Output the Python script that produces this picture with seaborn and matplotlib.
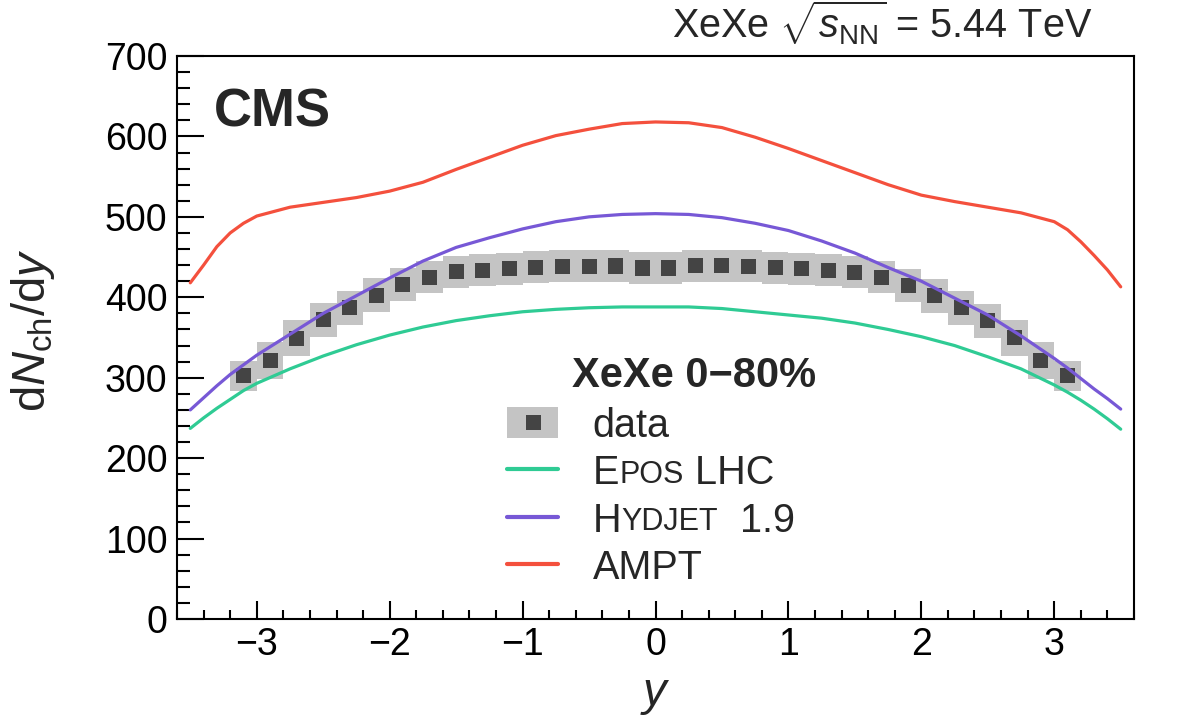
import numpy as np
import pandas as pd
import matplotlib
matplotlib.use("Agg")
import matplotlib.pyplot as plt
import seaborn as sns
from matplotlib.lines import Line2D
from matplotlib.patches import Patch
from matplotlib.legend_handler import HandlerTuple
from matplotlib.ticker import MultipleLocator

# ---------------- data ----------------
rapidity = [-3.1, -2.9, -2.7, -2.5, -2.3, -2.1, -1.9, -1.7, -1.5, -1.3, -1.1, -0.9,
            -0.7, -0.5, -0.3, -0.1, 0.1, 0.3, 0.5, 0.7, 0.9, 1.1, 1.3, 1.5,
            1.7, 1.9, 2.1, 2.3, 2.5, 2.7, 2.9, 3.1]
dndy = [302.5, 321.2, 349.0, 371.8, 387.1, 402.8, 415.3, 424.8, 431.8, 433.9, 435.5, 437.6,
        438.5, 438.5, 438.9, 436.4, 436.4, 439.3, 439.3, 438.5, 436.8, 435.5, 433.9, 431.1,
        424.8, 414.4, 402.0, 386.7, 370.9, 349.8, 321.2, 302.5]
dndy_sys = [18.8, 23.4, 22.6, 21.0, 21.0, 21.0, 20.5, 20.0, 20.0, 19.8, 19.8, 19.7,
            19.7, 19.7, 19.7, 19.7, 19.7, 19.7, 19.7, 19.7, 19.7, 19.8, 19.8, 20.0,
            20.0, 20.5, 21.0, 21.0, 21.0, 22.4, 23.4, 18.8]

model_y = [-3.5, -3.4, -3.3, -3.2, -3.1, -3.0, -2.75, -2.5, -2.25, -2.0, -1.75, -1.5,
           -1.25, -1.0, -0.75, -0.5, -0.25, 0.0, 0.25, 0.5, 0.75, 1.0, 1.25, 1.5,
           1.75, 2.0, 2.25, 2.5, 2.75, 3.0, 3.1, 3.2, 3.3, 3.4, 3.5]
epos = [237, 250, 262, 273, 284, 293, 311, 327, 341, 353, 363, 371,
        377, 382, 385, 387, 388, 388, 388, 386, 382, 378, 374, 368,
        360, 351, 340, 326, 311, 291, 282, 272, 261, 249, 236]
hydjet = [260, 275, 290, 304, 316, 328, 354, 380, 402, 424, 445, 462,
          474, 485, 494, 500, 503, 504, 503, 499, 492, 483, 470, 455,
          437, 420, 399, 378, 352, 324, 312, 299, 286, 274, 261]
ampt = [418, 440, 463, 480, 492, 501, 512, 518, 524, 532, 543, 559,
        574, 589, 601, 609, 616, 618, 617, 611, 599, 585, 570, 555,
        540, 527, 519, 512, 505, 494, 484, 469, 452, 434, 413]

model_names = ["EPOS LHC", "HYDJET 1.9", "AMPT"]
model_colors = ["#2fcb94", "#7758d6", "#f4503d"]
x_ticks = [-3, -2, -1, 0, 1, 2, 3]
y_ticks = [0, 100, 200, 300, 400, 500, 600, 700]

# ---------------- style ----------------
sns.set_theme(style="ticks")
plt.rcParams.update({
    "mathtext.fontset": "custom",
    "mathtext.rm": "Liberation Sans",
    "mathtext.it": "Liberation Sans:italic",
    "mathtext.bf": "Liberation Sans:bold",
    "mathtext.sf": "Liberation Sans",
    "axes.unicode_minus": True,
})
plt.rcParams["font.family"] = ["Liberation Sans", "DejaVu Sans"]

fig = plt.figure(figsize=(11.82, 7.21), dpi=100)
fig.patch.set_facecolor("white")
ax = fig.add_axes([0.14975, 0.14147, 0.80964, 0.78086])
ax.set_facecolor("white")

# systematic boxes
lo = np.array(dndy) - np.array(dndy_sys)
ax.bar(rapidity, 2 * np.array(dndy_sys), bottom=lo, width=0.2,
       color="#c4c4c4", linewidth=0, zorder=1)

# data points
df_data = pd.DataFrame({"y": rapidity, "dndy": dndy})
sns.scatterplot(data=df_data, x="y", y="dndy", marker="s", s=117,
                color="#444444", edgecolor="none", linewidth=0, ax=ax, zorder=2)

# models
rows = []
for name, vals in zip(model_names, [epos, hydjet, ampt]):
    for xv, v in zip(model_y, vals):
        rows.append({"y": xv, "dndy": v, "model": name})
df_models = pd.DataFrame(rows)
sns.lineplot(data=df_models, x="y", y="dndy", hue="model",
             palette=dict(zip(model_names, model_colors)), linewidth=2.3,
             estimator=None, sort=False, legend=False, ax=ax, zorder=3)

# axes
ax.set_xlim(-3.6, 3.6)
ax.set_ylim(0, 700)
ax.set_xticks(x_ticks)
ax.set_yticks(y_ticks)
ax.xaxis.set_minor_locator(MultipleLocator(0.2))
ax.yaxis.set_minor_locator(MultipleLocator(20))
ax.set_xlabel("")
ax.set_ylabel("")
ax.tick_params(axis="both", which="both", direction="in", top=False, right=False,
               width=1.5, color="black", labelsize=27, labelcolor="black")
ax.tick_params(axis="x", which="major", length=13, pad=6)
ax.tick_params(axis="x", which="minor", length=6.5)
ax.tick_params(axis="y", which="major", length=19.4, pad=7)
ax.tick_params(axis="y", which="minor", length=9.4)
for sp in ax.spines.values():
    sp.set_visible(True)
    sp.set_linewidth(1.5)
    sp.set_color("black")

# legend
LFS = 28.5
SFS = 22
data_handle = (Patch(facecolor="#c4c4c4", edgecolor="none"),
               Line2D([], [], marker="s", ls="none", ms=10.8, color="#444444",
                      markeredgewidth=0))
line_handles = [Line2D([], [], color=c, lw=3) for c in model_colors]
leg = ax.legend(handles=[data_handle] + line_handles,
                labels=["data", "E", "H", "AMPT"],
                handler_map={tuple: HandlerTuple(ndivide=1, pad=0)},
                loc="center left", bbox_to_anchor=(0.3448, 0.2170),
                frameon=False, fontsize=LFS, handlelength=1.29, handleheight=0.83,
                handletextpad=0.88, labelspacing=0.24, borderpad=0, borderaxespad=0)
texts = leg.get_texts()
a1 = ax.annotate("POS", xy=(1, 0), xycoords=texts[1], xytext=(0, 1.5),
                 textcoords="offset points", fontsize=SFS, va="bottom", ha="left",
                 annotation_clip=False, zorder=10)
ax.annotate(" LHC", xy=(1, 0), xycoords=a1, xytext=(0, -1.5),
            textcoords="offset points", fontsize=LFS, va="bottom", ha="left",
            annotation_clip=False, zorder=11)
a2 = ax.annotate("YDJET", xy=(1, 0), xycoords=texts[2], xytext=(0, 1.5),
                 textcoords="offset points", fontsize=SFS, va="bottom", ha="left",
                 annotation_clip=False, zorder=10)
ax.annotate("  1.9", xy=(1, 0), xycoords=a2, xytext=(0, -1.5),
            textcoords="offset points", fontsize=LFS, va="bottom", ha="left",
            annotation_clip=False, zorder=11)

ax.text(0.4124, 0.4126, "XeXe 0\u221280%", transform=ax.transAxes, fontsize=30,
        fontweight="bold", ha="left", va="baseline")
ax.text(0.0387, 0.8739, "CMS", transform=ax.transAxes, fontsize=38,
        fontweight="bold", ha="left", va="baseline")

fig.text(0.9239, 1 - 38 / 721, r"XeXe $\sqrt{s_{\mathrm{NN}}}$ = 5.44 TeV",
         ha="right", va="baseline", fontsize=28.5)
fig.text(33 / 1182, 1 - 330 / 721, r"d$N_{\mathrm{ch}}$/d$y$", rotation=90,
         ha="center", va="center", fontsize=34)
fig.text(655 / 1182, 1 - 705 / 721, r"$y$", ha="center", va="baseline", fontsize=34)

fig.savefig("out.png", dpi=100, facecolor="white")
